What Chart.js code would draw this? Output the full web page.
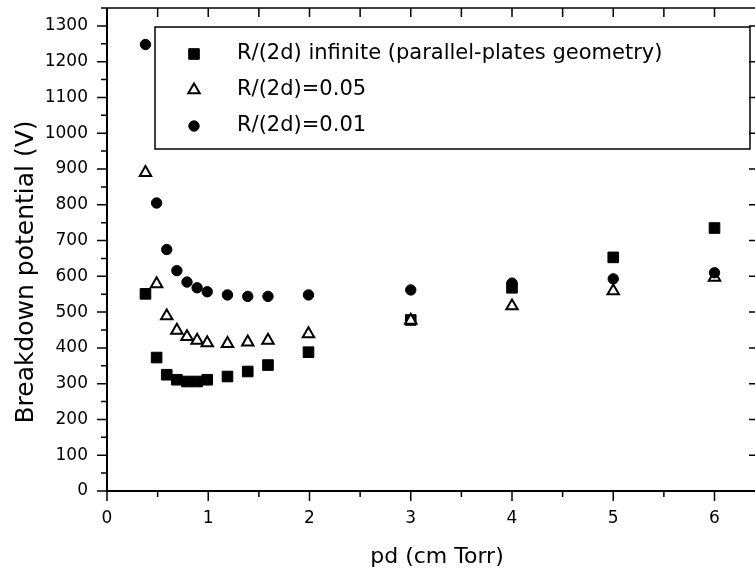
<!DOCTYPE html>
<html>
<head>
<meta charset="utf-8">
<script src="https://cdn.jsdelivr.net/npm/chart.js@4"></script>
<style>
  html, body { margin: 0; padding: 0; background: #fff; }
</style>
</head>
<body>
<canvas id="chart" width="755" height="568"></canvas>
<script>
// values
const pd = [0.38, 0.49, 0.59, 0.69, 0.79, 0.89, 0.99, 1.19, 1.39, 1.59, 1.99, 3, 4, 5, 6];
const vParallel = [551, 373, 325, 311, 306, 306, 311, 320, 334, 352, 388, 478, 568, 653, 735];
const v005 = [890, 579, 489, 449, 431, 421, 414, 412, 416, 421, 439, 477, 517, 559, 597];
const v001 = [1248, 805, 675, 616, 584, 568, 557, 548, 544, 544, 548, 562, 581, 593, 610];
const seriesLabels = ['R/(2d) infinite (parallel-plates geometry)', 'R/(2d)=0.05', 'R/(2d)=0.01'];
const xTicks = [0, 1, 2, 3, 4, 5, 6];
const yTicks = [0, 100, 200, 300, 400, 500, 600, 700, 800, 900, 1000, 1100, 1200, 1300];
const xTitle = 'pd (cm Torr)';
const yTitle = 'Breakdown potential (V)';

Chart.defaults.font.family = '"DejaVu Sans", sans-serif';
Chart.defaults.color = '#000';

const toPoints = (xs, ys) => xs.map((x, i) => ({x: x, y: ys[i]}));

const frame = {
  id: 'frame',
  afterDraw(chart) {
    const {ctx, chartArea: a, scales: {x, y}} = chart;
    ctx.save();
    ctx.strokeStyle = '#000';
    ctx.fillStyle = '#000';

    // axes
    ctx.lineWidth = 2;
    ctx.beginPath();
    ctx.moveTo(a.left, a.top);
    ctx.lineTo(a.left, a.bottom);
    ctx.lineTo(a.right, a.bottom);
    ctx.stroke();
    ctx.lineWidth = 1.5;
    ctx.beginPath();
    ctx.moveTo(a.left, a.top);
    ctx.lineTo(a.right, a.top);
    ctx.stroke();

    // tick marks, minor halfway between major ones
    ctx.lineWidth = 1.5;
    ctx.beginPath();
    for (let v = 0; v <= y.max; v += 50) {
      const py = y.getPixelForValue(v);
      const major = v % 100 === 0;
      ctx.moveTo(a.left - (major ? 10 : 6), py);
      ctx.lineTo(a.left, py);
      if (major) {
        ctx.moveTo(a.right - 6, py);
        ctx.lineTo(a.right, py);
      }
    }
    for (let v = 0; v <= x.max; v += 0.5) {
      const px = x.getPixelForValue(v);
      const major = Number.isInteger(v);
      ctx.moveTo(px, a.bottom);
      ctx.lineTo(px, a.bottom + (major ? 10 : 6));
      ctx.moveTo(px, a.top);
      ctx.lineTo(px, a.top + 9);
    }
    ctx.stroke();

    // axis titles
    ctx.font = '22px "DejaVu Sans"';
    ctx.textAlign = 'center';
    ctx.textBaseline = 'alphabetic';
    ctx.fillText(xTitle, 437, 563);
    ctx.save();
    ctx.translate(33, 272);
    ctx.rotate(-Math.PI / 2);
    ctx.font = '25px "DejaVu Sans"';
    ctx.fillText(yTitle, 0, 0);
    ctx.restore();

    // legend box
    ctx.lineWidth = 1.5;
    ctx.strokeRect(155, 27, 595, 122);
    chart.data.datasets.forEach((ds, i) => {
      const cy = 54 + i * 36;
      ctx.fillStyle = ds.backgroundColor;
      ctx.strokeStyle = ds.borderColor;
      ctx.lineWidth = ds.borderWidth;
      Chart.helpers.drawPoint(ctx, {
        pointStyle: ds.pointStyle, radius: ds.pointRadius,
        borderWidth: ds.borderWidth, rotation: 0
      }, 194, cy);
      ctx.fillStyle = '#000';
      ctx.font = '21px "DejaVu Sans"';
      ctx.textAlign = 'left';
      ctx.textBaseline = 'middle';
      ctx.fillText(ds.label, 237, cy);
    });
    ctx.restore();
  }
};

new Chart(document.getElementById('chart'), {
  type: 'scatter',
  data: {
    datasets: [
      {
        label: seriesLabels[0], data: toPoints(pd, vParallel),
        pointStyle: 'rect', pointRadius: 7.5, pointHoverRadius: 7.5,
        backgroundColor: '#000', borderColor: '#000', borderWidth: 1, order: 3
      },
      {
        label: seriesLabels[1], data: toPoints(pd, v005),
        pointStyle: 'triangle', pointRadius: 6.6, pointHoverRadius: 6.6,
        backgroundColor: '#fff', borderColor: '#000', borderWidth: 2, order: 2
      },
      {
        label: seriesLabels[2], data: toPoints(pd, v001),
        pointStyle: 'circle', pointRadius: 5.2, pointHoverRadius: 5.2,
        backgroundColor: '#000', borderColor: '#000', borderWidth: 1, order: 1
      }
    ]
  },
  options: {
    responsive: false,
    animation: false,
    devicePixelRatio: 1,
    layout: {autoPadding: false, padding: {top: 8, right: 0, left: 0, bottom: 0}},
    plugins: {legend: {display: false}, tooltip: {enabled: false}},
    scales: {
      x: {
        type: 'linear', min: 0, max: 6.4,
        grid: {display: false, drawTicks: false},
        border: {display: false},
        afterBuildTicks: s => { s.ticks = xTicks.map(v => ({value: v})); },
        afterFit: s => { s.height = 77; s.paddingLeft = 0; s.paddingRight = 0; },
        ticks: {font: {size: 17}, padding: 17, maxRotation: 0, callback: v => String(v)}
      },
      y: {
        type: 'linear', min: 0, max: 1350,
        grid: {display: false, drawTicks: false},
        border: {display: false},
        afterBuildTicks: s => { s.ticks = yTicks.map(v => ({value: v})); },
        afterFit: s => { s.width = 107; s.paddingTop = 0; s.paddingBottom = 0; },
        ticks: {font: {size: 17}, padding: 19, callback: v => String(v)}
      }
    }
  },
  plugins: [frame]
});
</script>
</body>
</html>
